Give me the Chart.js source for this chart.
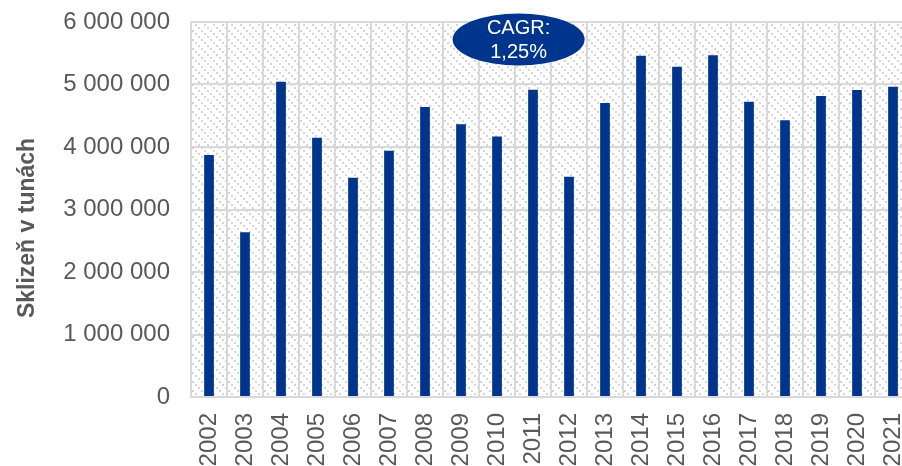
<!DOCTYPE html>
<html>
<head>
<meta charset="utf-8">
<script src="https://cdn.jsdelivr.net/npm/chart.js@4"></script>
<style>
  html, body { margin: 0; padding: 0; background: #fff; overflow: hidden; }
  #wrap { width: 902px; height: 466px; overflow: hidden; }
</style>
</head>
<body>
<div id="wrap"><canvas id="chart" width="912" height="466"></canvas></div>
<script>
const years = ['2002', '2003', '2004', '2005', '2006', '2007', '2008', '2009', '2010', '2011',
               '2012', '2013', '2014', '2015', '2016', '2017', '2018', '2019', '2020', '2021'];
const harvest = [3872000, 2635000, 5045000, 4149000, 3509000, 3941000, 4640000, 4363000, 4170000, 4917000,
                 3525000, 4704000, 5461000, 5285000, 5467000, 4725000, 4427000, 4816000, 4912000, 4965000];
const yTicks = [0, 1000000, 2000000, 3000000, 4000000, 5000000, 6000000];
const cagrLines = ['CAGR:', '1,25%'];
const yTitle = 'Sklizeň v tunách';

const gray = '#595959';
const gridColor = '#d9d9d9';
const barColor = '#00358e';
const fontFamily = '"Liberation Sans", Arial, sans-serif';

// dashed diagonal hatch tile for the plot background
function makeHatch(ctx) {
    const tile = document.createElement('canvas');
    tile.width = 9;
    tile.height = 9;
    const t = tile.getContext('2d');
    t.fillStyle = '#fff';
    t.fillRect(0, 0, 9, 9);
    t.fillStyle = '#d6d6d6';
    for (let i = 0; i < 9; i += 3) {
        t.fillRect(i, i, 2, 2);
    }
    return ctx.createPattern(tile, 'repeat');
}

const hatchPlugin = {
    id: 'hatch',
    beforeDraw(chart) {
        const {ctx, chartArea: a} = chart;
        ctx.save();
        ctx.fillStyle = makeHatch(ctx);
        ctx.fillRect(a.left, a.top, a.right - a.left, a.bottom - a.top);
        ctx.restore();
    }
};

// axis title sits a bit lower than the plot centre, so draw it by hand
const titlePlugin = {
    id: 'ytitle',
    afterDraw(chart) {
        const {ctx} = chart;
        ctx.save();
        ctx.translate(28, 228);
        ctx.rotate(-Math.PI / 2);
        ctx.fillStyle = gray;
        ctx.font = 'bold 23px ' + fontFamily;
        ctx.textAlign = 'center';
        ctx.textBaseline = 'middle';
        ctx.fillText(yTitle, 0, 0);
        ctx.restore();
    }
};

const cagrPlugin = {
    id: 'cagr',
    afterDatasetsDraw(chart) {
        const {ctx, scales: {x, y}} = chart;
        const cx = x.getPixelForValue(8.6);
        const cy = y.getPixelForValue(5720000);
        ctx.save();
        ctx.fillStyle = barColor;
        ctx.beginPath();
        ctx.ellipse(cx, cy, 66, 26, 0, 0, Math.PI * 2);
        ctx.fill();
        ctx.fillStyle = '#fff';
        ctx.font = '20px ' + fontFamily;
        ctx.textAlign = 'center';
        ctx.textBaseline = 'middle';
        ctx.fillText(cagrLines[0], cx, cy - 11);
        ctx.fillText(cagrLines[1], cx, cy + 13);
        ctx.restore();
    }
};

new Chart(document.getElementById('chart'), {
    type: 'bar',
    data: {
        labels: years,
        datasets: [{
            data: harvest,
            backgroundColor: barColor,
            barPercentage: 0.27,
            categoryPercentage: 1.0
        }]
    },
    options: {
        responsive: false,
        animation: false,
        layout: { padding: { top: 22, right: 1, left: 0, bottom: 0 } },
        plugins: {
            legend: { display: false },
            tooltip: { enabled: false }
        },
        scales: {
            x: {
                grid: { color: gridColor, lineWidth: 2, drawTicks: false, offset: true },
                border: { color: gridColor, width: 2 },
                ticks: {
                    color: gray,
                    font: { family: fontFamily, size: 24 },
                    minRotation: 90,
                    maxRotation: 90,
                    autoSkip: false,
                    padding: 16
                },
                afterFit(scale) {
                    scale.height = 69;
                    scale.paddingLeft = 0;
                    scale.paddingRight = 0;
                }
            },
            y: {
                min: 0,
                max: 6000000,
                afterBuildTicks(scale) { scale.ticks = yTicks.map(v => ({ value: v })); },
                grid: { color: gridColor, lineWidth: 2, drawTicks: false },
                border: { color: gridColor, width: 2 },
                ticks: {
                    color: gray,
                    font: { family: fontFamily, size: 24 },
                    padding: 21,
                    callback: v => v.toString().replace(/\B(?=(\d{3})+(?!\d))/g, ' ')
                },
                afterFit(scale) {
                    scale.width = 191;
                    scale.paddingTop = 0;
                    scale.paddingBottom = 0;
                }
            }
        }
    },
    plugins: [hatchPlugin, cagrPlugin, titlePlugin]
});
</script>
</body>
</html>
